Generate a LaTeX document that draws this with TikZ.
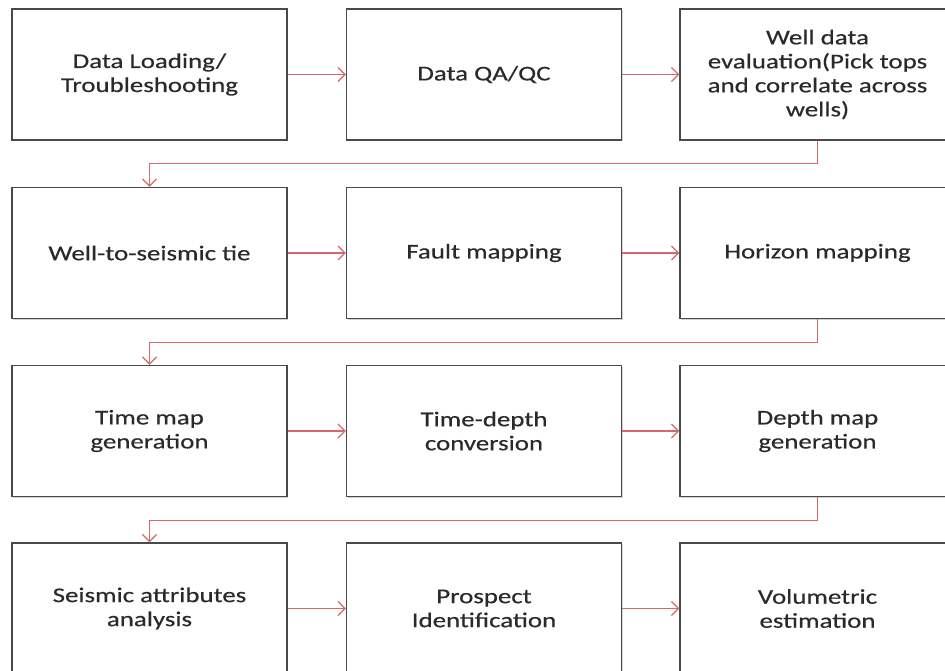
\documentclass[tikz,border=0pt]{standalone}
\usepackage{fontspec}
\setmainfont{Carlito}[FakeStretch=1.28,FakeBold=0.4]
\usetikzlibrary{arrows.meta,shadows}
\definecolor{boxline}{HTML}{4A4A4A}
\definecolor{arrowred}{HTML}{D4686D}
\definecolor{txt}{HTML}{2A2A2A}
\tikzset{
  stepbox/.style={draw=boxline, line width=1.4pt, fill=white, minimum width=275pt, minimum height=131pt,
    inner sep=0pt, align=center, text=txt, font=\fontsize{21}{24}\selectfont,
    drop shadow={shadow xshift=1.2pt, shadow yshift=-1.2pt, opacity=0.35, fill=gray}},
  flow/.style={draw=arrowred, line width=1.3pt, -{Straight Barb[length=7pt,width=14pt,line width=1.2pt]}}
}
\begin{document}
\begin{tikzpicture}[x=1pt,y=-1pt]
\useasboundingbox (0,0) rectangle (945,671);
\clip (0,0) rectangle (945,671);
\fill[white] (0,0) rectangle (945,671);
% row 1
\node[stepbox] (a1) at (149.5,74.5) {Data Loading/\\Troubleshooting};
\node[stepbox] (a2) at (484,74.5) {Data QA/QC};
\node[stepbox] (a3) at (817.5,74.5) {Well data\\evaluation(Pick tops\\and correlate across\\wells)};
% row 2
\node[stepbox] (b1) at (149.5,253) {Well-to-seismic tie};
\node[stepbox] (b2) at (484,253) {Fault mapping};
\node[stepbox] (b3) at (817.5,253) {Horizon mapping};
% row 3
\node[stepbox] (c1) at (149.5,431) {Time map\\generation};
\node[stepbox] (c2) at (484,431) {Time-depth\\conversion};
\node[stepbox] (c3) at (817.5,431) {Depth map\\generation};
% row 4
\node[stepbox] (d1) at (149.5,608.5) {Seismic attributes\\analysis};
\node[stepbox] (d2) at (484,608.5) {Prospect\\Identification};
\node[stepbox] (d3) at (817.5,608.5) {Volumetric\\estimation};
% horizontal arrows
\draw[flow] (a1.east) -- (a2.west);
\draw[flow] (a2.east) -- (a3.west);
\draw[flow] (b1.east) -- (b2.west);
\draw[flow] (b2.east) -- (b3.west);
\draw[flow] (c1.east) -- (c2.west);
\draw[flow] (c2.east) -- (c3.west);
\draw[flow] (d1.east) -- (d2.west);
\draw[flow] (d2.east) -- (d3.west);
% elbow connectors
\draw[flow] (a3.south) -- ++(0,23) -| (b1.north);
\draw[flow] (b3.south) -- ++(0,23) -| (c1.north);
\draw[flow] (c3.south) -- ++(0,23) -| (d1.north);
\end{tikzpicture}
\end{document}
